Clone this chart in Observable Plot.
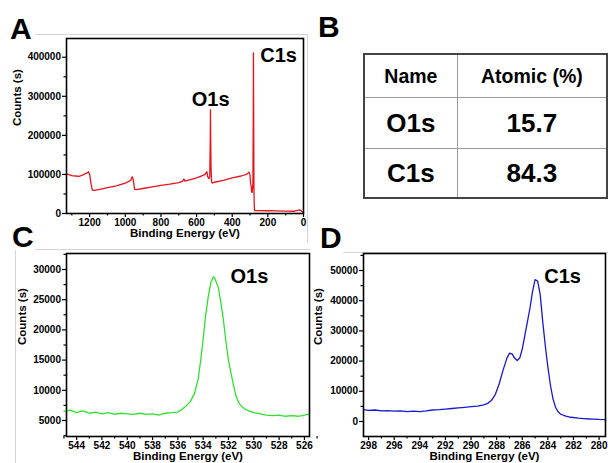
<!DOCTYPE html>
<html><head><meta charset="utf-8">
<script src="https://cdn.jsdelivr.net/npm/d3@7"></script>
<script src="https://cdn.jsdelivr.net/npm/@observablehq/plot@0.6"></script>
<style>
html,body{margin:0;padding:0;background:#fff;}
#fig{position:relative;width:608px;height:463px;overflow:hidden;font-family:"Liberation Sans",Arial,sans-serif;background:#fff;}
.panel{position:absolute;}
.lbl{position:absolute;font-weight:bold;font-size:30px;line-height:30px;color:#000;}
.rule{position:absolute;background:#d4d4d4;}
#tbl{position:absolute;left:363px;top:53px;border-collapse:collapse;border:2px solid #444;font-weight:bold;color:#000;}
#tbl td{border:1px solid #9a9a9a;text-align:center;padding:0;}
</style></head><body><div id="fig"></div>
<script>
// ---- Panel A: survey spectrum ----
const surveyE = [1330,1320,1300,1280,1260,1240,1225,1212,1207,1200,1192,1185,1175,1150,1100,1050,1000,985,970,965,961,955,948,940,900,850,800,750,700,680,671,665,650,600,560,550,542,538,531,526,523,522,521,519,516,512,500,450,400,350,320,310,305,300,297,294,291,288,284,282,281,280,278,276,274,250,200,150,100,50,33,25,17,8,0];
const surveyCounts = [101000,100000,97000,96000,95000,98000,102000,104000,107000,100000,75000,60000,59000,61000,66000,71000,78000,81000,85000,90000,94000,85000,62000,61000,64000,68000,72000,75000,79000,82000,88000,83000,85000,91000,98000,102000,107000,95000,89000,95000,200000,266000,205000,120000,82000,78000,80000,85000,91000,96000,100000,104000,106000,97000,76000,72000,55000,54000,75000,250000,411000,300000,60000,12000,7700,7500,7000,6500,6000,5800,8000,9500,8500,5000,1500];
const surveyXTicks = [0,200,400,600,800,1000,1200];
const surveyXMinor = [100,300,500,700,900,1100,1300];
const surveyYTicks = [0,100000,200000,300000,400000];
const surveyYMinor = [50000,150000,250000,350000];
const surveyPeakNames = ["O1s","C1s"];
const surveyPeakE = [521,140];
const surveyPeakCounts = [291000,405000];

// ---- Panel B: table ----
const tableHeaders = ["Name","Atomic (%)"];
const tableNames = ["O1s","C1s"];
const tableAtomic = ["15.7","84.3"];

// ---- Panel C: O1s ----
const o1sE = [545,544.5,544,543.5,543,542.5,542,541.5,541,540.5,540,539.5,539,538.5,538,537.5,537,536.5,536,535.7,535.4,535,534.7,534.4,534.2,534,533.8,533.6,533.4,533.2,533.1,533,532.8,532.6,532.4,532.2,532,531.8,531.6,531.4,531.2,531,530.7,530.4,530,529.5,529,528.5,528,527.5,527,526.5,526,525.6];
const o1sCounts = [6500,6700,6300,6600,6200,6400,6100,6300,6000,6200,6100,6000,6200,6000,6100,5900,6200,6300,6400,6800,7300,8200,9400,11800,14900,18500,22500,25500,27800,28800,28600,28100,27000,24500,21600,18000,15000,12800,10800,9000,8000,7400,6900,6600,6300,6100,5900,5800,5900,5700,5800,5700,5900,6100];
const o1sXTicks = [526,528,530,532,534,536,538,540,542,544];
const o1sXMinor = [525,527,529,531,533,535,537,539,541,543,545];
const o1sYTicks = [5000,10000,15000,20000,25000,30000];
const o1sYMinor = [2500,7500,12500,17500,22500,27500,32500];
const o1sPeakNames = ["O1s"];
const o1sPeakE = [530.35];
const o1sPeakCounts = [28840];

// ---- Panel D: C1s ----
const c1sE = [298.4,298,297.5,297,296.5,296,295.5,295,294.5,294,293.5,293,292.5,292,291.5,291,290.5,290,289.5,289,288.7,288.4,288.1,287.8,287.5,287.2,287,286.8,286.6,286.4,286.2,286,285.8,285.6,285.4,285.2,285,284.8,284.6,284.4,284.2,284,283.8,283.6,283.4,283.2,283,282.6,282.2,281.6,281,280.5,280,279.5];
const c1sCounts = [3900,3700,3800,3500,3600,3400,3500,3300,3400,3300,3500,3800,3900,4100,4300,4500,4700,4900,5100,5500,6000,7000,9000,12500,17000,21000,22600,22400,21000,20200,21000,24000,28500,33000,37500,43000,47000,46500,42000,33000,25000,18000,12000,7500,4700,3200,2400,1800,1400,1100,900,800,700,650];
const c1sXTicks = [280,282,284,286,288,290,292,294,296,298];
const c1sXMinor = [281,283,285,287,289,291,293,295,297];
const c1sYTicks = [0,10000,20000,30000,40000,50000];
const c1sYMinor = [-5000,5000,15000,25000,35000,45000,55000];
const c1sPeakNames = ["C1s"];
const c1sPeakE = [282.85];
const c1sPeakCounts = [48000];

const xTitle = "Binding Energy (eV)";
const yTitle = "Counts (s)";

const fig = document.getElementById("fig");

function zip(es, cs) { return es.map((e, i) => ({e, c: cs[i]})); }
function zipLabels(ns, es, cs) { return ns.map((n, i) => ({name: n, e: es[i], c: cs[i]})); }

function spectrum(o) {
  const fmt = d => String(d);
  return Plot.plot({
    width: o.width, height: o.height,
    marginLeft: o.ml, marginRight: o.mr, marginTop: o.mt, marginBottom: o.mb,
    style: {fontFamily: "'Liberation Sans', Arial, sans-serif", fontSize: "10px", fontWeight: "bold", color: "#000", background: "transparent", overflow: "visible"},
    x: {domain: o.xDomain},
    y: {domain: o.yDomain},
    marks: [
      Plot.line(o.data, {x: "e", y: "c", stroke: o.color, strokeWidth: 1.3}),
      Plot.axisX({ticks: o.xMinor, tickSize: 2.5, fill: "none", label: null, strokeWidth: 1.2}),
      Plot.axisX({ticks: o.xTicks, tickSize: 4, tickPadding: 1, tickFormat: fmt, label: null, strokeWidth: 1.2}),
      Plot.axisY({ticks: o.yMinor.filter(v => v > o.yDomain[0] && v < o.yDomain[1]), tickSize: 2.5, fill: "none", label: null, strokeWidth: 1.2}),
      Plot.axisY({ticks: o.yTicks, tickSize: 4, tickPadding: 1.5, tickFormat: fmt, label: null, strokeWidth: 1.2}),
      Plot.frame({stroke: "#000", strokeWidth: 1.6}),
      Plot.text([xTitle], {text: d => d, frameAnchor: "bottom", dy: o.xTitleDy, fontSize: 11.5}),
      Plot.text([yTitle], {text: d => d, frameAnchor: "left", rotate: -90, dx: o.yTitleDx, fontSize: 11.5}),
      Plot.text(o.labels, {x: "e", y: "c", text: "name", fontSize: 20})
    ]
  });
}

function place(node, left, top) {
  const d = document.createElement("div");
  d.className = "panel";
  d.style.left = left + "px";
  d.style.top = top + "px";
  d.appendChild(node);
  fig.appendChild(d);
}

function rule(l, t, w, h) {
  const d = document.createElement("div");
  d.className = "rule";
  Object.assign(d.style, {left: l + "px", top: t + "px", width: w + "px", height: h + "px"});
  fig.appendChild(d);
}
rule(35, 34, 272, 1);
rule(307, 34, 1, 209);
rule(35, 249, 275, 1);
rule(343, 252, 265, 1);
rule(15, 250, 1, 213);

place(spectrum({
  data: zip(surveyE, surveyCounts), labels: zipLabels(surveyPeakNames, surveyPeakE, surveyPeakCounts),
  width: 310, height: 215, ml: 66, mr: 7, mt: 8, mb: 32,
  xDomain: [1330, 0], yDomain: [0, 448000],
  xTicks: surveyXTicks, xMinor: surveyXMinor, yTicks: surveyYTicks, yMinor: surveyYMinor,
  color: "#e8141c", xTitleDy: 23, yTitleDx: -49
}), 0, 30);

place(spectrum({
  data: zip(o1sE, o1sCounts), labels: zipLabels(o1sPeakNames, o1sPeakE, o1sPeakCounts),
  width: 312, height: 218, ml: 66, mr: 3, mt: 8, mb: 27,
  xDomain: [544.8, 525.6], yDomain: [2350, 32650],
  xTicks: o1sXTicks, xMinor: o1sXMinor, yTicks: o1sYTicks, yMinor: o1sYMinor,
  color: "#2fe22f", xTitleDy: 23.5, yTitleDx: -44
}), 0, 245);

place(spectrum({
  data: zip(c1sE, c1sCounts), labels: zipLabels(c1sPeakNames, c1sPeakE, c1sPeakCounts),
  width: 307, height: 218, ml: 63, mr: 2, mt: 8, mb: 27,
  xDomain: [298.4, 279.5], yDomain: [-4970, 55630],
  xTicks: c1sXTicks, xMinor: c1sXMinor, yTicks: c1sYTicks, yMinor: c1sYMinor,
  color: "#1818d0", xTitleDy: 23.5, yTitleDx: -45
}), 300, 245);

// table
const tbl = document.createElement("table");
tbl.id = "tbl";
const colW = [93, 151];
const rowH = [42, 50, 48];
const rows = [tableHeaders].concat(tableNames.map((n, i) => [n, tableAtomic[i]]));
rows.forEach((r, ri) => {
  const tr = document.createElement("tr");
  r.forEach((v, ci) => {
    const td = document.createElement("td");
    td.textContent = v;
    td.style.width = colW[ci] + "px";
    td.style.height = rowH[ri] + "px";
    td.style.fontSize = ri === 0 ? "19.5px" : "26px";
    tr.appendChild(td);
  });
  tbl.appendChild(tr);
});
fig.appendChild(tbl);

// panel letters
[["A", 10, 14], ["B", 318, 12], ["C", 12, 222], ["D", 320, 223]].forEach(([t, l, tp]) => {
  const d = document.createElement("div");
  d.className = "lbl";
  d.textContent = t;
  d.style.left = l + "px";
  d.style.top = tp + "px";
  fig.appendChild(d);
});
</script></body></html>
